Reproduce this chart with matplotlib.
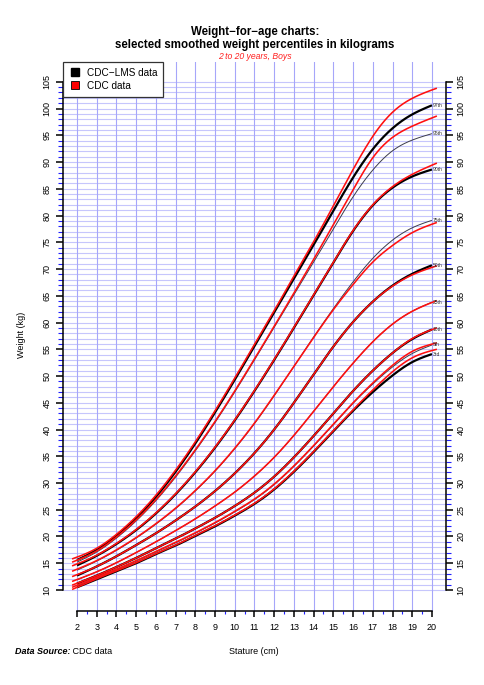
import numpy as np
import matplotlib
matplotlib.use("Agg")
import matplotlib.pyplot as plt
from matplotlib.lines import Line2D
from matplotlib.ticker import MultipleLocator, FixedLocator

plt.rcParams['font.family'] = ['Liberation Sans', 'DejaVu Sans']

# ---------------- data ----------------
ages = [2, 3, 4, 5, 6, 7, 8, 9, 10, 11, 12, 13, 14, 15, 16, 17, 18, 19, 20]

lms_p3 = [10.5, 12.0, 13.5, 15.0, 16.7, 18.3, 20.1, 21.9, 23.9, 26.1, 28.8, 32.1, 35.8, 39.7, 43.5, 47.0, 50.1, 52.6, 54.1]
lms_p5 = [10.8, 12.3, 13.8, 15.4, 17.1, 18.8, 20.6, 22.5, 24.6, 26.9, 29.7, 33.1, 36.9, 40.9, 44.9, 48.5, 51.7, 54.2, 55.8]
lms_p10 = [11.2, 12.7, 14.3, 16.0, 17.8, 19.6, 21.5, 23.5, 25.7, 28.2, 31.2, 34.8, 38.8, 43.0, 47.2, 51.0, 54.3, 56.9, 58.7]
lms_p25 = [11.9, 13.4, 15.1, 17.0, 19.0, 21.1, 23.3, 25.7, 28.3, 31.3, 34.8, 38.9, 43.4, 48.0, 52.4, 56.4, 59.7, 62.1, 63.8]
lms_p50 = [12.7, 14.4, 16.3, 18.4, 20.6, 23.0, 25.6, 28.5, 31.8, 35.6, 40.0, 45.0, 50.3, 55.5, 60.1, 63.9, 66.9, 69.1, 70.7]
lms_p75 = [13.7, 15.4, 17.4, 19.7, 22.3, 25.2, 28.5, 32.2, 36.4, 41.1, 46.3, 51.8, 57.3, 62.6, 67.6, 72.0, 75.4, 77.7, 79.1]
lms_p90 = [14.6, 16.4, 18.6, 21.2, 24.3, 27.9, 32.0, 36.6, 41.7, 47.2, 53.0, 59.0, 65.1, 71.2, 77.1, 81.9, 85.2, 87.3, 88.6]
lms_p95 = [15.2, 17.1, 19.7, 22.9, 26.7, 31.1, 36.0, 41.3, 47.0, 53.0, 59.1, 65.2, 71.3, 77.5, 83.5, 88.5, 92.1, 94.1, 95.3]
lms_p97 = [15.6, 17.5, 20.1, 23.4, 27.4, 32.1, 37.4, 43.2, 49.3, 55.6, 61.9, 68.2, 74.5, 80.9, 87.1, 92.4, 96.3, 98.9, 100.6]

cdc_ages = [1.75, 3, 4, 5, 6, 7, 8, 9, 10, 11, 12, 13, 14, 15, 16, 17, 18, 19, 20.25]

cdc_p3 = [10.1, 12.1, 13.6, 15.1, 16.8, 18.4, 20.2, 22.0, 24.0, 26.2, 28.9, 32.2, 35.9, 39.8, 43.7, 47.4, 50.8, 53.4, 55.0]
cdc_p5 = [10.5, 12.4, 13.9, 15.5, 17.2, 18.9, 20.7, 22.6, 24.7, 27.0, 29.8, 33.2, 37.0, 41.0, 45.0, 48.7, 52.0, 54.6, 56.2]
cdc_p10 = [10.9, 12.7, 14.3, 16.0, 17.8, 19.6, 21.5, 23.5, 25.7, 28.2, 31.2, 34.8, 38.8, 43.0, 47.2, 51.0, 54.3, 57.0, 59.0]
cdc_p25 = [11.6, 13.4, 15.1, 17.0, 19.0, 21.1, 23.3, 25.7, 28.3, 31.3, 34.8, 38.9, 43.4, 48.0, 52.4, 56.4, 59.7, 62.1, 64.1]
cdc_p50 = [12.5, 14.4, 16.3, 18.4, 20.6, 23.0, 25.6, 28.5, 31.8, 35.6, 40.0, 45.0, 50.3, 55.5, 60.1, 63.9, 66.8, 68.9, 70.6]
cdc_p75 = [13.5, 15.5, 17.5, 19.8, 22.4, 25.3, 28.6, 32.3, 36.5, 41.2, 46.4, 51.8, 57.2, 62.4, 67.1, 71.3, 74.4, 76.8, 78.7]
cdc_p90 = [14.5, 16.5, 18.7, 21.3, 24.4, 28.0, 32.1, 36.7, 41.8, 47.3, 53.1, 59.1, 65.2, 71.3, 77.2, 82.0, 85.4, 87.7, 89.8]
cdc_p95 = [15.2, 17.3, 19.9, 23.1, 26.9, 31.3, 36.2, 41.5, 47.2, 53.2, 59.3, 65.5, 71.8, 78.3, 84.8, 90.8, 94.6, 96.7, 98.6]
cdc_p97 = [15.8, 17.8, 20.4, 23.7, 27.7, 32.4, 37.7, 43.5, 49.6, 55.9, 62.2, 68.7, 75.1, 81.8, 88.6, 94.8, 99.3, 101.9, 103.8]

percentile_labels = ['3rd', '5th', '10th', '25th', '50th', '75th', '90th', '95th', '97th']
legend_labels = ['CDC\u2212LMS data', 'CDC data']

lms_series = [lms_p3, lms_p5, lms_p10, lms_p25, lms_p50, lms_p75, lms_p90, lms_p95, lms_p97]
cdc_series = [cdc_p3, cdc_p5, cdc_p10, cdc_p25, cdc_p50, cdc_p75, cdc_p90, cdc_p95, cdc_p97]
thick = [True, False, True, False, True, False, True, False, True]


def smooth(x, y, xn):
    """natural cubic spline through the given points"""
    x = np.asarray(x, float); y = np.asarray(y, float)
    n = len(x); h = np.diff(x)
    A = np.zeros((n, n)); b = np.zeros(n)
    A[0, 0] = 1; A[-1, -1] = 1
    for i in range(1, n - 1):
        A[i, i - 1] = h[i - 1]; A[i, i] = 2 * (h[i - 1] + h[i]); A[i, i + 1] = h[i]
        b[i] = 6 * ((y[i + 1] - y[i]) / h[i] - (y[i] - y[i - 1]) / h[i - 1])
    M = np.linalg.solve(A, b)
    i = np.clip(np.searchsorted(x, xn) - 1, 0, n - 2)
    hi = h[i]
    a = x[i + 1] - xn; c = xn - x[i]
    return (M[i] * a**3 / (6 * hi) + M[i + 1] * c**3 / (6 * hi)
            + (y[i] / hi - M[i] * hi / 6) * a + (y[i + 1] / hi - M[i + 1] * hi / 6) * c)


# ---------------- figure ----------------
W, H = 485, 685
fig = plt.figure(figsize=(W / 100, H / 100), dpi=100)
left_px, right_px, top_px, bot_px = 62.7, 445.5, 61.7, 610.7
ax = fig.add_axes([left_px / W, 1 - bot_px / H, (right_px - left_px) / W, (bot_px - top_px) / H])
XL = (1.275, 20.687)
YL = (6.13, 108.75)

# grid
for yv in range(10, 106):
    ax.plot(XL, [yv, yv], color='#c6c6fc', lw=0.8, zorder=1, solid_capstyle='butt')
for xv in range(2, 21):
    ax.axvline(xv, color='#a6a6fa', lw=0.8, zorder=1)

# curves
for s, th in zip(lms_series, thick):
    xs = np.linspace(ages[0], ages[-1], 400)
    ax.plot(xs, smooth(ages, s, xs), color='black' if th else '#3c3c4c',
            lw=1.6 if th else 0.7, zorder=3, solid_capstyle='butt')
for s in cdc_series:
    xs = np.linspace(cdc_ages[0], cdc_ages[-1], 400)
    ax.plot(xs, smooth(cdc_ages, s, xs), color='#ff1010', lw=1.15, zorder=4,
            solid_capstyle='butt')

for s, lab in zip(lms_series, percentile_labels):
    ax.text(ages[-1] + 0.05, s[-1], lab, fontsize=3.6, color='#333333',
            ha='left', va='center', zorder=5)

# spines and ticks
ax.spines['top'].set_visible(False)
ax.spines['left'].set_bounds(10, 105)
ax.spines['right'].set_bounds(10, 105)
ax.spines['bottom'].set_bounds(2, 20)
for sp in ['left', 'right', 'bottom']:
    ax.spines[sp].set_linewidth(1.1)

ax.yaxis.set_major_locator(MultipleLocator(5))
ax.yaxis.set_minor_locator(FixedLocator(range(10, 106)))
ax.xaxis.set_major_locator(FixedLocator(ages))
ax.xaxis.set_minor_locator(FixedLocator(np.arange(2.5, 20, 1.0)))
ax.tick_params(axis='y', which='both', left=True, right=True, labelleft=True, labelright=True)
ax.tick_params(axis='y', which='major', length=5, width=1.1, color='black',
               labelsize=6.5, pad=3, labelrotation=90)
ax.tick_params(axis='y', which='minor', length=3.5, width=0.8, color='#2020ff')
ax.tick_params(axis='x', which='major', length=4, width=1.1, color='black', labelsize=6.5, pad=5)
ax.tick_params(axis='x', which='minor', length=2.5, width=0.8, color='#2020ff')
for lab in ax.get_yticklabels():
    lab.set_va('center')
ax.set_xlim(*XL)
ax.set_ylim(*YL)

# legend
handles = [Line2D([], [], marker='s', ls='', markerfacecolor='black', markeredgecolor='black', markersize=5.5),
           Line2D([], [], marker='s', ls='', markerfacecolor='#ff0000', markeredgecolor='black',
                  markersize=5.5, markeredgewidth=0.6)]
leg = ax.legend(handles, legend_labels, loc='upper left', bbox_to_anchor=(0, 1), borderaxespad=0,
                fancybox=False, framealpha=1, edgecolor='#333333', fontsize=7.2,
                handlelength=1.25, handletextpad=0.55, borderpad=0.6, labelspacing=0.3)
leg.get_frame().set_linewidth(0.9)
leg.set_zorder(10)

# titles and labels
fig.text(255 / W, 1 - 31.7 / H, 'Weight\u2212for\u2212age charts:', ha='center', va='center',
         fontsize=8.3, fontweight='bold')
fig.text(255 / W, 1 - 45 / H, 'selected smoothed weight percentiles in kilograms', ha='center',
         va='center', fontsize=8.3, fontweight='bold')
fig.text(255 / W, 1 - 56.7 / H, '2 to 20 years, Boys', ha='center', va='center',
         fontsize=6.2, style='italic', color='#ff2020')
fig.text(22 / W, 1 - 335 / H, 'Weight (kg)', rotation=90, ha='center', va='center', fontsize=6.5)
fig.text(254 / W, 1 - 651 / H, 'Stature (cm)', ha='center', va='center', fontsize=6.5)
t1 = fig.text(15 / W, 1 - 652 / H, 'Data Source:', ha='left', va='center', fontsize=6.5,
              fontweight='bold', style='italic')
ax.annotate(' CDC data', xy=(1, 0.5), xycoords=t1, ha='left', va='center', fontsize=6.5,
            annotation_clip=False)

fig.savefig('out.png', dpi=100)
